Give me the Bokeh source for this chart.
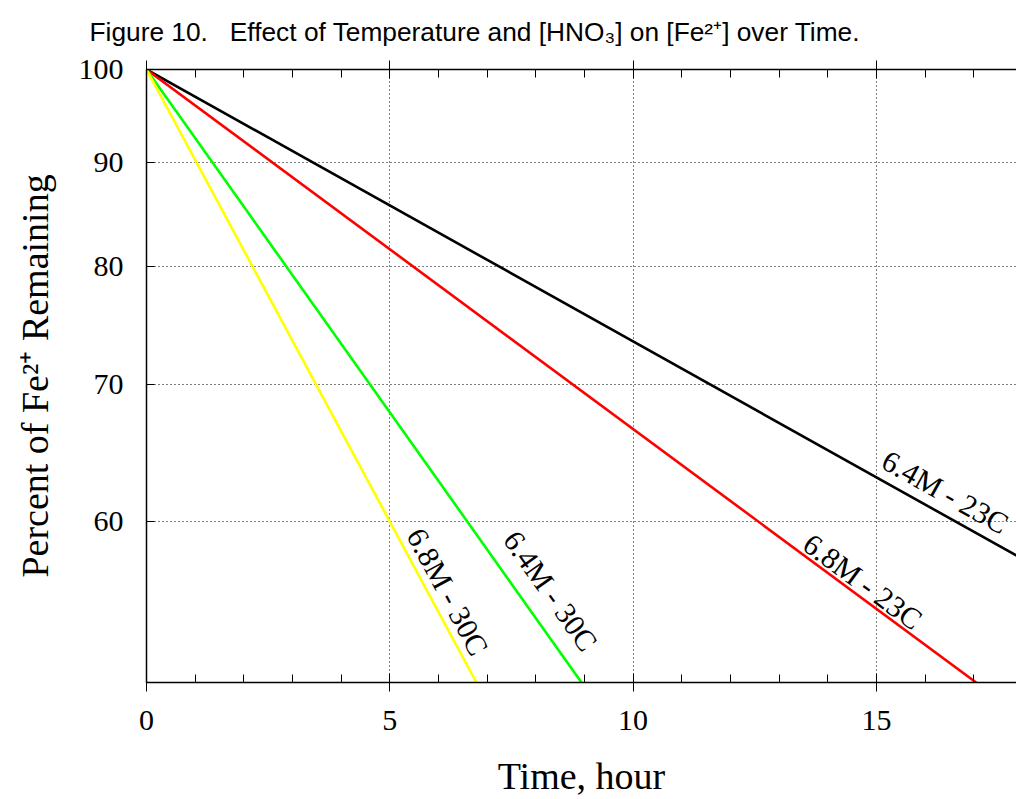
import math
from bokeh.plotting import figure
from bokeh.models import Range1d, FixedTicker, LinearAxis, Label, PrintfTickFormatter
from bokeh.embed import file_html
from bokeh.resources import INLINE

# ---------------- data ----------------
series_names = ["6.4M - 23C", "6.8M - 23C", "6.4M - 30C", "6.8M - 30C"]
series_colors = ["#000000", "#ff0000", "#00ff00", "#ffff00"]
time_64M_23C = [0.0, 18.0]
pct_64M_23C = [100.0, 57.5]
time_68M_23C = [0.0, 17.05]
pct_68M_23C = [100.0, 50.0]
time_64M_30C = [0.0, 8.94]
pct_64M_30C = [100.0, 50.0]
time_68M_30C = [0.0, 6.78]
pct_68M_30C = [100.0, 50.0]
x_tick_values = [0, 5, 10, 15]
y_tick_values = [60, 70, 80, 90, 100]
title_text = "Figure 10. \u00a0\u00a0Effect of Temperature and [HNO\u2083] on [Fe\u00b2\u207a] over Time."
x_label = "Time, hour"
y_label = "Percent of Fe\u00b2\u207a Remaining"

series_x = [time_64M_23C, time_68M_23C, time_64M_30C, time_68M_30C]
series_y = [pct_64M_23C, pct_68M_23C, pct_64M_30C, pct_68M_30C]

# ---------------- layout ----------------
W, H = 1016, 799
FL, FT, FW, FH = 146, 69, 870, 614
XE = FW / 48.66
Y0, Y1 = 50.0, 100.0
PX_PER_X = FW / XE
PX_PER_DEC = FH / math.log10(Y1 / Y0)


def to_data(px, py):
    return (px - FL) / PX_PER_X, 10 ** (math.log10(Y1) - (py - FT) / PX_PER_DEC)


p = figure(width=W, height=H, x_range=Range1d(0, XE), y_range=Range1d(Y0, Y1),
           y_axis_type="log", output_backend="svg", toolbar_location=None,
           min_border_left=FL, min_border_right=0, min_border_top=FT,
           min_border_bottom=H - FT - FH)
p.outline_line_color = None
p.background_fill_color = "white"
p.border_fill_color = "white"

# title
p.title.text = title_text
p.title.text_font = "Liberation Sans"
p.title.text_font_size = "26.3px"
p.title.text_font_style = "normal"
p.title.text_color = "black"
p.title.align = "left"
p.title.offset = -57
p.title.standoff = 28

minor = [i for i in range(0, 18) if i % 5 != 0]

# bottom axis
xa = p.xaxis[0]
xa.ticker = FixedTicker(ticks=x_tick_values, minor_ticks=minor)
xa.major_tick_in = 9
xa.major_tick_out = 9
xa.minor_tick_in = 8
xa.minor_tick_out = 0
xa.major_label_text_font = "Liberation Serif"
xa.major_label_text_font_size = "30px"
xa.major_label_text_color = "black"
xa.major_label_standoff = 19
xa.axis_line_width = 1.5
xa.axis_line_color = "black"
xa.major_tick_line_color = "black"
xa.minor_tick_line_color = "black"
xa.axis_label = x_label
xa.axis_label_text_font = "Liberation Serif"
xa.axis_label_text_font_size = "38px"
xa.axis_label_text_font_style = "normal"
xa.axis_label_text_color = "black"
xa.axis_label_standoff = 22

# top axis (ticks only)
top = LinearAxis(ticker=FixedTicker(ticks=x_tick_values, minor_ticks=minor),
                 major_label_overrides={v: "" for v in x_tick_values},
                 major_label_text_font_size="1px", major_label_standoff=0)
top.major_tick_in = 9
top.major_tick_out = 9
top.minor_tick_in = 8
top.minor_tick_out = 0
top.axis_line_width = 1.5
top.axis_line_color = "black"
top.major_tick_line_color = "black"
top.minor_tick_line_color = "black"
p.add_layout(top, "above")

# left axis
ya = p.yaxis[0]
ya.ticker = FixedTicker(ticks=y_tick_values)
ya.formatter = PrintfTickFormatter(format="%d")
ya.major_tick_in = 8
ya.major_tick_out = 0
ya.minor_tick_line_color = None
ya.major_label_text_font = "Liberation Serif"
ya.major_label_text_font_size = "30px"
ya.major_label_text_color = "black"
ya.major_label_standoff = 23
ya.axis_line_width = 1.5
ya.axis_line_color = "black"
ya.major_tick_line_color = "black"
ya.axis_label = y_label
ya.axis_label_text_font = "Liberation Serif"
ya.axis_label_text_font_size = "38px"
ya.axis_label_text_font_style = "normal"
ya.axis_label_text_color = "black"
ya.axis_label_standoff = 20

# grids
p.xgrid.ticker = FixedTicker(ticks=x_tick_values[1:])
p.ygrid.ticker = FixedTicker(ticks=y_tick_values[:-1])
for g in (p.xgrid[0], p.ygrid[0]):
    g.grid_line_color = "black"
    g.grid_line_dash = "1 3"
    g.grid_line_width = 1

# lines
for xs, ys, c in zip(series_x, series_y, series_colors):
    p.line(xs, ys, line_color=c, line_width=2.6)

# labels along lines (baseline parallel to the line, offset above it)
label_anchor_x = [14.96, 13.40, 7.01, 5.19]
label_perp = [21, 14, 28, 18]
for xs, ys, name, ax, perp in zip(series_x, series_y, series_names, label_anchor_x, label_perp):
    theta = math.atan2(math.log10(ys[0] / ys[1]) * PX_PER_DEC, (xs[1] - xs[0]) * PX_PER_X)
    ay = ys[0] * (ys[1] / ys[0]) ** ((ax - xs[0]) / (xs[1] - xs[0]))
    lx = FL + ax * PX_PER_X
    ly = FT + math.log10(Y1 / ay) * PX_PER_DEC
    dx_, dy_ = to_data(lx + perp * math.sin(theta), ly - perp * math.cos(theta))
    p.add_layout(Label(x=dx_, y=dy_, text=name, angle=-theta,
                       text_font="Liberation Serif", text_font_size="30px",
                       text_align="left", text_baseline="alphabetic", text_color="black"))

open("out.html", "w").write(file_html(p, INLINE))
